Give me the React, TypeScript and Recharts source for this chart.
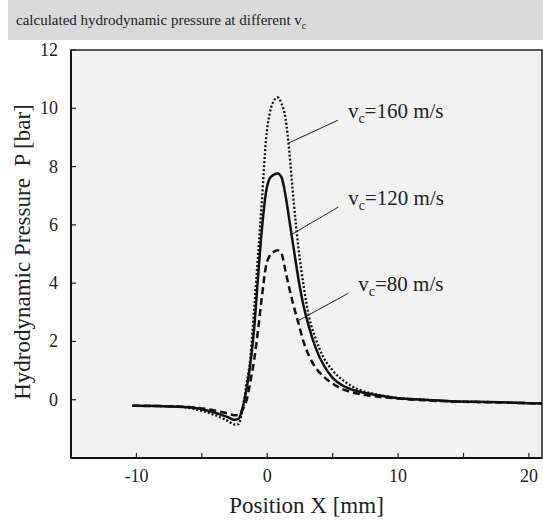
import React from 'react';
import {
  LineChart,
  Line,
  XAxis,
  YAxis,
  CartesianGrid,
  ReferenceArea,
  ReferenceLine,
} from 'recharts';

const FONT = "'Liberation Serif', 'Times New Roman', serif";

// position X [mm]
const posX = [-10.3, -8, -6, -4.5, -3.5, -3, -2.5, -2.2, -1.9, -1.6, -1.3, -1.0, -0.7, -0.4, -0.1, 0.2, 0.5, 0.8, 1.1, 1.4, 1.7, 2.0, 2.4, 2.8, 3.2, 3.7, 4.3, 5, 6, 7, 8.5, 10, 12, 14, 17, 21];
// hydrodynamic pressure [bar] per cutting speed
const p80 = [-0.21, -0.22, -0.25, -0.33, -0.42, -0.47, -0.53, -0.52, -0.35, -0.05, 0.6, 1.37, 2.4, 3.57, 4.57, 4.95, 5.08, 5.13, 5.0, 4.4, 3.8, 3.25, 2.6, 1.95, 1.5, 1.1, 0.8, 0.55, 0.32, 0.2, 0.1, 0.04, -0.02, -0.06, -0.09, -0.13];
const p120 = [-0.21, -0.22, -0.26, -0.38, -0.52, -0.6, -0.69, -0.66, -0.3, 0.32, 1.2, 2.45, 4.23, 5.9, 7.1, 7.6, 7.72, 7.76, 7.62, 7.0, 6.13, 5.25, 4.1, 3.17, 2.48, 1.78, 1.2, 0.75, 0.43, 0.28, 0.15, 0.05, 0.0, -0.05, -0.08, -0.13];
const p160 = [-0.21, -0.22, -0.28, -0.45, -0.62, -0.73, -0.85, -0.84, -0.35, 0.5, 1.4, 3.13, 4.98, 6.9, 8.9, 9.85, 10.25, 10.37, 10.15, 9.65, 8.45, 6.9, 5.15, 3.85, 2.83, 2.1, 1.45, 1.0, 0.6, 0.35, 0.17, 0.06, 0.0, -0.05, -0.08, -0.13];

const xTicks = [-10, -5, 0, 5, 10, 15, 20];
const xLabelled = [-10, 0, 10, 20];
const yTicks = [0, 2, 4, 6, 8, 10, 12];

// leader lines: label end -> curve
const notes = [
  { speed: '160', from: { x: 5.4, y: 9.59 }, to: { x: 1.65, y: 8.81 } },
  { speed: '120', from: { x: 5.43, y: 6.61 }, to: { x: 1.93, y: 5.69 } },
  { speed: '80', from: { x: 6.19, y: 3.65 }, to: { x: 2.36, y: 2.71 } },
];

const data = posX.map((x, i) => ({ x, v80: p80[i], v120: p120[i], v160: p160[i] }));

// eslint-disable-next-line @typescript-eslint/no-explicit-any
const XTick = ({ x, y, payload }: any) => (
  <g>
    <line x1={x} y1={y} x2={x} y2={y - 5} stroke="#222" strokeWidth={1.2} />
    {xLabelled.includes(payload.value) && (
      <text x={x} y={y + 24} textAnchor="middle" fontSize={18} fill="#222" fontFamily={FONT}>
        {payload.value}
      </text>
    )}
  </g>
);

// eslint-disable-next-line @typescript-eslint/no-explicit-any
const YTick = ({ x, y, payload }: any) => (
  <g>
    <line x1={x} y1={y} x2={x + 5} y2={y} stroke="#222" strokeWidth={1.2} />
    <text x={x - 13} y={y + 6} textAnchor="end" fontSize={18} fill="#222" fontFamily={FONT}>
      {payload.value}
    </text>
  </g>
);

// eslint-disable-next-line @typescript-eslint/no-explicit-any
const YTitle = ({ viewBox }: any) => {
  const cy = viewBox.y + viewBox.height / 2 - 2;
  return (
    <text x={30} y={cy} transform={`rotate(-90, 30, ${cy})`} textAnchor="middle" fontSize={23} fill="#222" fontFamily={FONT}>
      Hydrodynamic Pressure{'\u00a0\u00a0'}P [bar]
    </text>
  );
};

// eslint-disable-next-line @typescript-eslint/no-explicit-any
const XTitle = ({ viewBox }: any) => (
  <text x={viewBox.x + viewBox.width / 2} y={513} textAnchor="middle" fontSize={23} fill="#222" fontFamily={FONT}>
    Position X [mm]
  </text>
);

// eslint-disable-next-line @typescript-eslint/no-explicit-any
const SpeedLabel = ({ viewBox, speed }: any) => (
  <text x={viewBox.x + viewBox.width + 10} y={viewBox.y - 2} fontSize={21} fill="#222" fontFamily={FONT}>
    v
    <tspan dy={5} fontSize={14}>c</tspan>
    <tspan dy={-5}>={speed} m/s</tspan>
  </text>
);

export default function App() {
  return (
    <div style={{ position: 'absolute', left: 0, top: 0, width: 543, height: 521, background: '#fff' }}>
      <div
        style={{
          position: 'absolute',
          left: 8,
          top: 0,
          width: 527,
          height: 40,
          paddingLeft: 8,
          background: '#d9d9d9',
          fontFamily: FONT,
          fontSize: 15,
          lineHeight: '40px',
          color: '#222',
        }}
      >
        calculated hydrodynamic pressure at different v<sub style={{ fontSize: 10 }}>c</sub>
      </div>
      <div style={{ position: 'absolute', left: 0, top: 0 }}>
        <LineChart width={543} height={521} data={data} margin={{ top: 50, right: 1, bottom: 0, left: 0 }}>
          <CartesianGrid fill="#f2f2f2" horizontal={false} vertical={false} />
          <XAxis
            dataKey="x"
            type="number"
            domain={[-15, 21]}
            ticks={xTicks}
            allowDataOverflow
            height={63}
            tickSize={0}
            tickMargin={0}
            tickLine={false}
            tick={<XTick />}
            axisLine={{ stroke: '#111', strokeWidth: 2 }}
            label={<XTitle />}
          />
          <YAxis
            type="number"
            domain={[-2, 12]}
            ticks={yTicks}
            allowDataOverflow
            width={71}
            tickSize={0}
            tickMargin={0}
            tickLine={false}
            tick={<YTick />}
            axisLine={{ stroke: '#111', strokeWidth: 2 }}
            label={<YTitle />}
          />
          <ReferenceArea x1={-15} x2={21} y1={-2} y2={12} fill="none" stroke="#222" strokeWidth={1.5} />
          <Line dataKey="v160" type="monotone" stroke="#111" strokeWidth={2.3} strokeDasharray="2 2" dot={false} isAnimationActive={false} />
          <Line dataKey="v120" type="monotone" stroke="#111" strokeWidth={2.5} dot={false} isAnimationActive={false} />
          <Line dataKey="v80" type="monotone" stroke="#111" strokeWidth={2.5} strokeDasharray="7 4" dot={false} isAnimationActive={false} />
          {notes.map((n) => (
            <ReferenceLine
              key={n.speed}
              segment={[n.from, n.to]}
              stroke="#222"
              strokeWidth={1}
              ifOverflow="visible"
              label={<SpeedLabel speed={n.speed} />}
            />
          ))}
        </LineChart>
      </div>
    </div>
  );
}
